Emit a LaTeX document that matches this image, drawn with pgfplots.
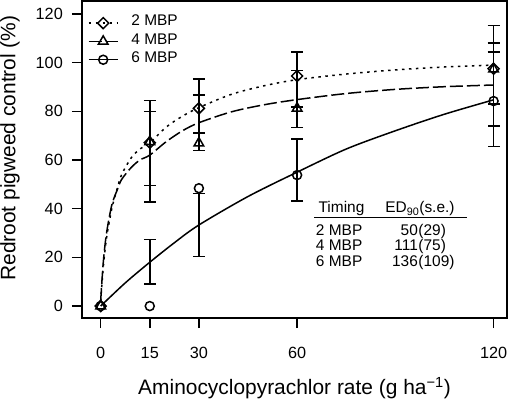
\documentclass[border=0pt]{standalone}
\usepackage{fontspec}
\setmainfont{Liberation Sans}
\usepackage{pgfplots}
\pgfplotsset{compat=1.18}
\begin{document}
\begin{tikzpicture}
\begin{axis}[
  scale only axis, width=425bp, height=317bp,
  xmin=-5.7, xmax=124.1, ymin=-4.9, ymax=125.3,
  axis line style={line width=1.5bp},
  tick pos=left, tick align=outside,
  major tick length=10bp,
  every tick/.style={black, line width=1.5bp},
  xtick={0,15,30,60,120}, xticklabels={0,15,30,60,120},
  ytick={0,20,40,60,80,100,120},
  /pgf/number format/assume math mode=true,
  ticklabel style={font=\fontsize{16.3}{19}\selectfont},
  xticklabel style={anchor=north, inner sep=0pt, yshift=-19bp},
  yticklabel style={anchor=east, inner sep=0pt, xshift=-9bp},
  xlabel={Aminocyclopyrachlor rate (g ha\textsuperscript{−1})},
  ylabel={Redroot pigweed control (\%)},
  every axis x label/.style={at={(axis description cs:0.5,0)}, anchor=center, yshift=-70bp, font=\fontsize{21}{24}\selectfont},
  every axis y label/.style={at={(axis description cs:0,0.536)}, xshift=-72bp, anchor=center, rotate=90, font=\fontsize{21}{24}\selectfont},
  legend style={at={(axis description cs:0.014,0.959)}, anchor=north west, draw=none, fill=none,
    inner sep=0pt, outer sep=0pt, row sep=0pt, column sep=13bp,
    font=\fontsize{15.5}{18}\selectfont,
    nodes={inner sep=0pt, text height=12bp, text depth=6.3bp}},
  legend cell align=left,
  legend image code/.code={\draw[mark repeat=2,mark phase=2,#1] plot coordinates {(0bp,0bp)(14.5bp,0bp)(29bp,0bp)};},
  clip=false,
]
% legend
\addlegendimage{black, line width=1.5bp, dash pattern=on 2.5bp off 4.5bp, mark=square, mark size=3.9bp, mark options={rotate=45, solid}}
\addlegendentry{2 MBP}
\addlegendimage{black, line width=1.5bp, dash pattern=on 13bp off 4bp, mark=triangle, mark size=5.6bp, mark options={solid}}
\addlegendentry{4 MBP}
\addlegendimage{black, line width=1.5bp, solid, mark=o, mark size=4.5bp}
\addlegendentry{6 MBP}

% fitted curves
\addplot[forget plot, black, line width=1.5bp, dash pattern=on 2.5bp off 4.5bp, smooth, mark=none] coordinates {
(0,2) (0.8,16) (1.8,28) (3.4,40) (5,48) (6.4,54) (9.4,61) (12,64.5) (15,67) (20,73.5) (25,78) (30,81.5) (40,87) (50,90.5) (60,93) (75,95.3) (90,97) (105,98.2) (120,99)};
\addplot[forget plot, black, line width=1.5bp, dash pattern=on 13bp off 4bp, smooth, mark=none] coordinates {
(0,2) (0.8,18) (1.8,30) (3.4,41.5) (5,47.5) (6.4,52) (9.4,57) (12,60) (15,62) (20,67.5) (25,72) (30,75.3) (40,79.8) (50,82.7) (60,84.8) (75,87.3) (90,89) (105,90.1) (120,90.8)};
\addplot[forget plot, black, line width=1.5bp, solid, smooth, mark=none] coordinates {
(0,0) (7.5,9.5) (15,18) (22.5,26) (30,33.3) (45,45) (60,55) (75,64.5) (90,72) (105,78.8) (120,84.7)};

% error bars (centred on fitted values)
\pgfplotsset{ebar/.style={forget plot, draw=none, mark=none,
  error bars/.cd, y dir=both, y explicit, error mark=-,
  error mark options={black, line width=1.5bp, mark size=6bp, rotate=90},
  error bar style={black, line width=1.5bp}}}
\addplot[ebar] table[x=x, y=m, y error=e] {
x m e
15 66.95 17.45
30 82.1 11.1
60 93.0 11.3
120 99.1 16.1
};
\addplot[ebar] table[x=x, y=m, y error=e] {
x m e
15 61.3 18.6
30 75.25 11.45
60 85.0 11.7
120 91.0 17.0
};
\addplot[ebar] table[x=x, y=m, y error=e] {
x m e
15 18.2 9.2
30 33.3 13.0
60 55.9 12.7
120 84.9 19.4
};

% observed means
\addplot[forget plot, only marks, black, mark=square, mark size=3.9bp, mark options={rotate=45, line width=1.5bp}] coordinates {
(0,0) (15,67.1) (30,81.2) (60,94.5) (120,97.5)};
\addplot[forget plot, only marks, black, mark=triangle, mark size=5.6bp, mark options={line width=1.5bp}] coordinates {
(0,0) (15,67.5) (30,66.9) (60,81.2) (120,97.3)};
\addplot[forget plot, only marks, black, mark=o, mark size=4.5bp, mark options={line width=1.5bp}] coordinates {
(0,0) (15,0) (30,48.4) (60,53.8) (120,84.2)};

% ED90 table
\begin{scope}[every node/.style={font=\fontsize{15.5}{18}\selectfont, inner sep=0pt}]
\node[anchor=base west] at (axis cs:66.5,38.3) {Timing};
\node[anchor=base west] at (axis cs:86.9,38.3) {ED\textsubscript{90}(s.e.)};
\draw[line width=1.4bp] (axis cs:65.3,36.4) -- (axis cs:111.9,36.4);
\node[anchor=base west] at (axis cs:65.7,29.1) {2 MBP};
\node[anchor=base west] at (axis cs:65.7,22.7) {4 MBP};
\node[anchor=base west] at (axis cs:65.7,16.4) {6 MBP};
\node[anchor=base east] at (axis cs:96.95,29.1) {50};
\node[anchor=base east] at (axis cs:96.95,22.7) {111};
\node[anchor=base east] at (axis cs:96.95,16.4) {136};
\node[anchor=base west] at (axis cs:97.0,29.1) {(29)};
\node[anchor=base west] at (axis cs:97.0,22.7) {(75)};
\node[anchor=base west] at (axis cs:97.0,16.4) {(109)};
\end{scope}
\end{axis}
\pgfresetboundingbox
\path ([shift={(-82bp,-83bp)}]current axis.south west) rectangle ([shift={(3bp,1bp)}]current axis.north east);
\end{tikzpicture}
\end{document}
